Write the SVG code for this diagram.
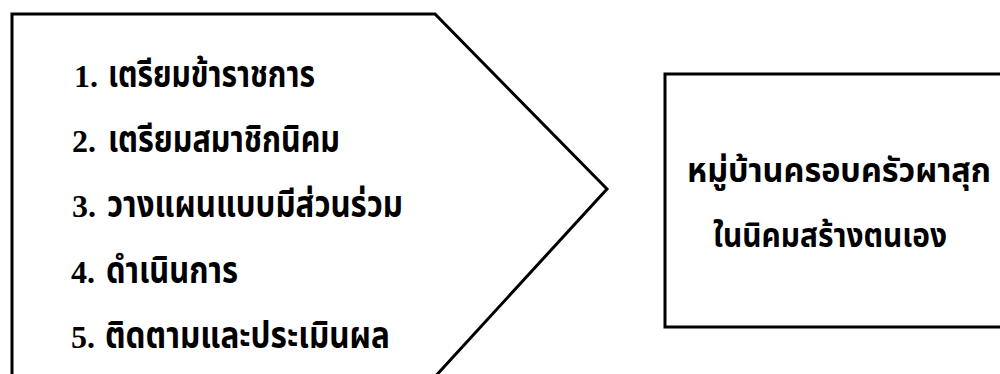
<svg xmlns="http://www.w3.org/2000/svg" width="1000" height="374" viewBox="0 0 1000 374">
<style>
.shape{fill:#fff;stroke:#000;stroke-width:3;stroke-linejoin:miter}
.t{font-family:"Noto Sans Thai","Noto Sans","DejaVu Sans",sans-serif;font-size:38px;font-weight:bold;fill:#000}
.r{font-size:34px}
.n{font-family:"Liberation Serif",serif;font-size:32px;font-weight:bold;fill:#000}
</style>
<rect x="0" y="0" width="1000" height="374" fill="#fff"/>
<g id="steps">
<polygon class="shape" points="12,380 12,14 435,14 607,189 432,380"/>
<text class="n" x="74" y="87">1.</text>
<text class="t" x="108" y="87" textLength="207" lengthAdjust="spacingAndGlyphs">เตรียมข้าราชการ</text>
<text class="n" x="72" y="152">2.</text>
<text class="t" x="108" y="152" textLength="232" lengthAdjust="spacingAndGlyphs">เตรียมสมาชิกนิคม</text>
<text class="n" x="72" y="217">3.</text>
<text class="t" x="107" y="217" textLength="296" lengthAdjust="spacingAndGlyphs">วางแผนแบบมีส่วนร่วม</text>
<text class="n" x="71" y="283">4.</text>
<text class="t" x="106" y="283" textLength="132" lengthAdjust="spacingAndGlyphs">ดำเนินการ</text>
<text class="n" x="71" y="348">5.</text>
<text class="t" x="105" y="348" textLength="285" lengthAdjust="spacingAndGlyphs">ติดตามและประเมินผล</text>
</g>
<g id="result">
<rect class="shape" x="665" y="74" width="345" height="253"/>
<text class="t" x="687" y="182" style="font-size:33px" textLength="304" lengthAdjust="spacingAndGlyphs">หมู่บ้านครอบครัวผาสุก</text>
<text class="t r" x="713" y="247" textLength="234" lengthAdjust="spacingAndGlyphs">ในนิคมสร้างตนเอง</text>
</g>
<g id="connectors"></g>
</svg>
